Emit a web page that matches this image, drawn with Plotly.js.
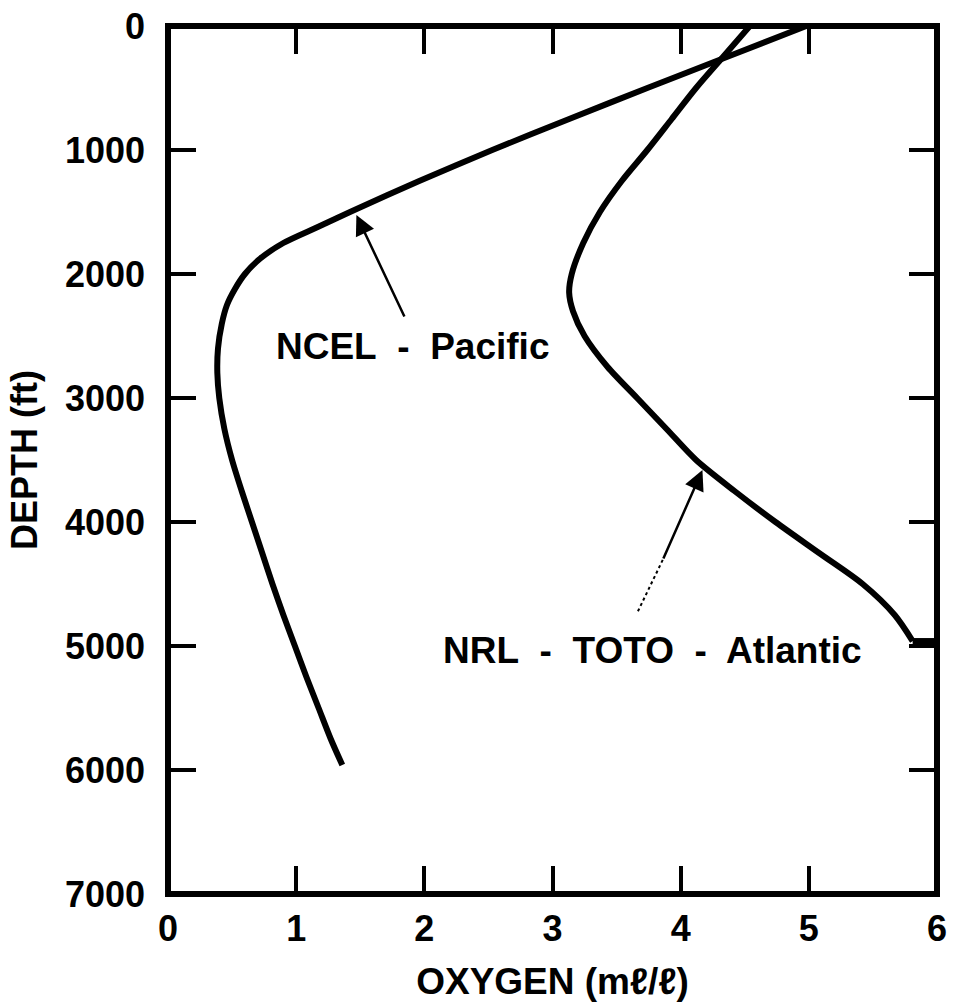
<!DOCTYPE html>
<html>
<head>
<meta charset="utf-8">
<script src="https://cdn.plot.ly/plotly-3.0.1.min.js"></script>
<style>
html,body{margin:0;padding:0;background:#fff;}
#chart{width:956px;height:1004px;}
</style>
</head>
<body>
<div id="chart"></div>
<script>
// NCEL - Pacific profile (depth ft, oxygen ml/l)
const pacificDepth  = [0, 250, 500, 750, 1000, 1250, 1500, 1625, 1750, 1875, 2000, 2125, 2250, 2400, 2600, 2800, 3000, 3250, 3500, 3750, 4000, 4250, 4500, 4750, 5000, 5250, 5500, 5750, 5960];
const pacificOxygen = [4.98, 4.36, 3.74, 3.13, 2.53, 1.96, 1.42, 1.16, 0.90, 0.72, 0.60, 0.52, 0.46, 0.42, 0.39, 0.385, 0.40, 0.44, 0.50, 0.575, 0.655, 0.735, 0.815, 0.90, 0.99, 1.08, 1.175, 1.27, 1.36];

// NRL - TOTO - Atlantic profile (depth ft, oxygen ml/l)
const atlanticDepth  = [0, 250, 500, 750, 1000, 1250, 1500, 1750, 2000, 2150, 2300, 2500, 2750, 3000, 3250, 3500, 3750, 4000, 4250, 4500, 4750, 4960, 4960];
const atlanticOxygen = [4.54, 4.33, 4.12, 3.93, 3.74, 3.54, 3.37, 3.24, 3.15, 3.13, 3.16, 3.25, 3.43, 3.66, 3.89, 4.12, 4.42, 4.74, 5.08, 5.42, 5.67, 5.81, 6.0];

const xTicks = [0, 1, 2, 3, 4, 5, 6];
const yTicks = [0, 1000, 2000, 3000, 4000, 5000, 6000, 7000];

const FAM = '"Liberation Sans", Arial, Helvetica, sans-serif';
const labelFont = {family: FAM, size: 36, color: '#000', weight: 'bold'};

const nA = atlanticDepth.length;
const traces = [
  {x: pacificOxygen, y: pacificDepth, mode: 'lines', name: 'NCEL - Pacific',
   line: {color: '#000', width: 6, shape: 'spline', smoothing: 0.8}, hoverinfo: 'skip'},
  {x: atlanticOxygen.slice(0, nA - 1), y: atlanticDepth.slice(0, nA - 1), mode: 'lines', name: 'NRL - TOTO - Atlantic',
   line: {color: '#000', width: 6, shape: 'spline', smoothing: 0.8}, hoverinfo: 'skip'},
  {x: atlanticOxygen.slice(nA - 2), y: atlanticDepth.slice(nA - 2), mode: 'lines', showlegend: false,
   line: {color: '#000', width: 6}, hoverinfo: 'skip'}
];

const layout = {
  width: 956, height: 1004,
  margin: {l: 168, r: 19, t: 26, b: 110},
  paper_bgcolor: '#fff', plot_bgcolor: '#fff',
  showlegend: false,
  xaxis: {
    range: [0, 6], tickvals: xTicks, ticktext: xTicks.map(String),
    ticks: 'inside', ticklen: 28, tickwidth: 4, tickcolor: '#000',
    mirror: 'ticks', showline: false, showgrid: false, zeroline: false,
    tickfont: labelFont, ticklabelstandoff: 10,
    title: {text: 'OXYGEN (m\u2113/\u2113)', font: {family: FAM, size: 37, color: '#000', weight: 'bold'}, standoff: 20}
  },
  yaxis: {
    range: [7000, 0], tickvals: yTicks, ticktext: yTicks.map(String),
    ticks: 'inside', ticklen: 28, tickwidth: 4, tickcolor: '#000',
    mirror: 'ticks', showline: false, showgrid: false, zeroline: false,
    tickfont: labelFont, ticklabelstandoff: 22,
    title: {text: 'DEPTH (ft)', font: {family: FAM, size: 36, color: '#000', weight: 'bold'}, standoff: 16}
  },
  shapes: [
    {type: 'rect', xref: 'paper', yref: 'paper', x0: 0, x1: 1, y0: 0, y1: 1,
     line: {color: '#000', width: 6}, fillcolor: 'rgba(0,0,0,0)', layer: 'above'},
    {type: 'line', xref: 'x', yref: 'y', x0: 3.86, y0: 4306, x1: 3.66, y1: 4734,
     line: {color: '#000', width: 2, dash: 'dot'}}
  ],
  annotations: [
    {x: 1.91, y: 2581, xref: 'x', yref: 'y', text: 'NCEL\u00A0 -\u00A0 Pacific', showarrow: false,
     font: {family: FAM, size: 37, color: '#000', weight: 'bold'}, xanchor: 'center', yanchor: 'middle'},
    {x: 3.78, y: 5040, xref: 'x', yref: 'y', text: 'NRL\u00A0 -\u00A0 TOTO\u00A0 -\u00A0 Atlantic', showarrow: false,
     font: {family: FAM, size: 37, color: '#000', weight: 'bold'}, xanchor: 'center', yanchor: 'middle'},
    {x: 1.47, y: 1524, ax: 1.85, ay: 2355, xref: 'x', yref: 'y', axref: 'x', ayref: 'y', text: '',
     showarrow: true, arrowhead: 2, arrowsize: 1.6, arrowwidth: 2.5, arrowcolor: '#000'},
    {x: 4.17, y: 3581, ax: 3.86, ay: 4306, xref: 'x', yref: 'y', axref: 'x', ayref: 'y', text: '',
     showarrow: true, arrowhead: 2, arrowsize: 1.6, arrowwidth: 2.5, arrowcolor: '#000'}
  ]
};

Plotly.newPlot('chart', traces, layout, {staticPlot: true, displayModeBar: false});
</script>
</body>
</html>
